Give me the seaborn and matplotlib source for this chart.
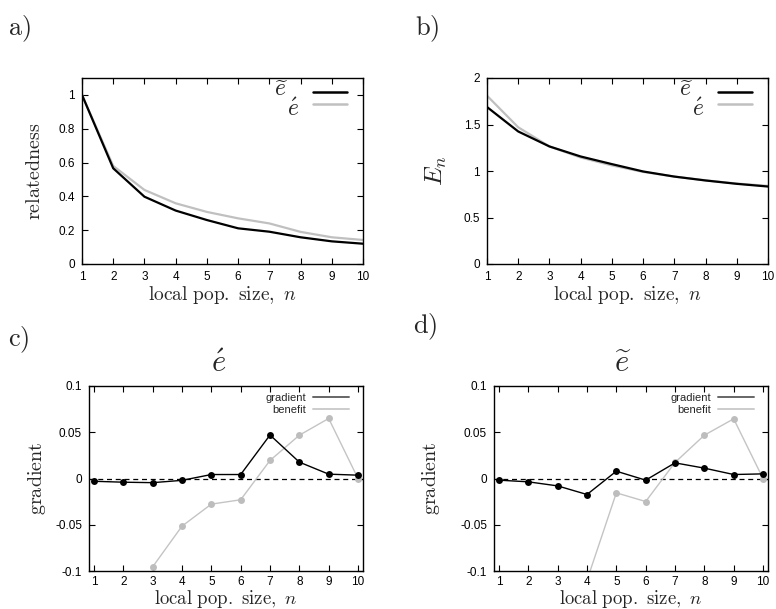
import numpy as np
import pandas as pd
import matplotlib
matplotlib.use("Agg")
import matplotlib.pyplot as plt
from matplotlib.lines import Line2D
from matplotlib.ticker import FuncFormatter
import seaborn as sns

# ---- data -------------------------------------------------------------
n = [1, 2, 3, 4, 5, 6, 7, 8, 9, 10]

relatedness_tilde = [1.0, 0.566, 0.398, 0.316, 0.26, 0.211, 0.191, 0.158, 0.134, 0.12]
relatedness_acute = [1.0, 0.58, 0.438, 0.359, 0.308, 0.27, 0.24, 0.19, 0.158, 0.142]

En_tilde = [1.688, 1.425, 1.264, 1.156, 1.074, 0.995, 0.94, 0.898, 0.862, 0.833]
En_acute = [1.81, 1.47, 1.264, 1.145, 1.06, 0.99, 0.94, 0.90, 0.865, 0.84]

gradient_acute = [-0.003, -0.004, -0.0045, -0.002, 0.0043, 0.0043, 0.047, 0.0177, 0.0047, 0.0036]
benefit_acute = [np.nan, np.nan, -0.0955, -0.0515, -0.0277, -0.023, 0.0195, 0.0468, 0.0649, 0.0]

gradient_tilde = [-0.0018, -0.0036, -0.008, -0.0173, 0.0079, -0.0018, 0.0169, 0.0112, 0.0043, 0.005]
benefit_tilde = [np.nan, np.nan, np.nan, -0.11, -0.0155, -0.0249, 0.0173, 0.0468, 0.0645, 0.0]

LBL_TILDE = r"$\widetilde{e}$"
LBL_ACUTE = r"$\acute{e}$"
XLABEL = r"$\mathrm{local\ pop.\ size,}\ n$"

# ---- style ------------------------------------------------------------
sns.set_style("ticks")
plt.rcParams["font.family"] = ["Liberation Sans", "DejaVu Sans"]
plt.rcParams["mathtext.fontset"] = "cm"
plt.rcParams["axes.unicode_minus"] = False
plt.rcParams["axes.linewidth"] = 1.0
plt.rcParams["axes.edgecolor"] = "black"

W, H = 776, 609
DPI = 100
fig = plt.figure(figsize=(W / DPI, H / DPI), dpi=DPI)


def px_axes(left, right, top, bottom):
    return fig.add_axes([left / W, 1 - bottom / H, (right - left) / W, (bottom - top) / H])


def style_axes(ax, yticks, ylim, xlim, xlabel_y, xpad=5, xlabel_size=14):
    ax.set_xlim(*xlim)
    ax.set_ylim(*ylim)
    ax.set_xticks(n)
    ax.set_yticks(yticks)
    ax.yaxis.set_major_formatter(FuncFormatter(lambda v, p: "%g" % round(v, 6)))
    ax.tick_params(direction="in", length=4, width=0.8, labelsize=8.5, pad=5,
                   top=True, right=True, colors="black")
    ax.tick_params(axis="x", pad=xpad)
    for s in ax.spines.values():
        s.set_visible(True)
        s.set_color("black")
        s.set_linewidth(1.0)
    ax.set_xlabel(XLABEL, fontsize=xlabel_size)
    ax.xaxis.set_label_coords(0.5, xlabel_y)


BLACK = "black"
GREY = "#c0c0c0"

# ---- a) relatedness ---------------------------------------------------
ax_a = px_axes(82, 363, 78, 264)
sns.lineplot(x=n, y=relatedness_acute, ax=ax_a, color=GREY, lw=1.6)
sns.lineplot(x=n, y=relatedness_tilde, ax=ax_a, color=BLACK, lw=1.6)
style_axes(ax_a, [0, 0.2, 0.4, 0.6, 0.8, 1], (0, 1.1), (1, 10), -0.105)
ax_a.set_ylabel(r"$\mathrm{relatedness}$", fontsize=14.5)
ax_a.yaxis.set_label_coords(-0.135, 0.5)

# ---- b) E_n -----------------------------------------------------------
ax_b = px_axes(487, 768, 78, 264)
sns.lineplot(x=n, y=En_acute, ax=ax_b, color=GREY, lw=1.6)
sns.lineplot(x=n, y=En_tilde, ax=ax_b, color=BLACK, lw=1.6)
style_axes(ax_b, [0, 0.5, 1, 1.5, 2], (0, 2), (1, 10), -0.105)
ax_b.set_ylabel(r"$E_n$", fontsize=18)
ax_b.yaxis.set_label_coords(-0.135, 0.5)

for ax in (ax_a, ax_b):
    handles = [Line2D([], [], color=BLACK, lw=1.8), Line2D([], [], color=GREY, lw=1.8)]
    leg = ax.legend(handles, [LBL_TILDE, LBL_ACUTE], loc="upper right", markerfirst=False,
                    frameon=False, fontsize=17, handlelength=1.45, handletextpad=0.65,
                    labelspacing=-0.45, borderaxespad=0.2, bbox_to_anchor=(0.995, 1.05))
    # stagger the two symbols: tilde-e sits up and left, acute-e drops below its line
    # (offsets are in output pixels)
    t_tilde, t_acute = leg.get_texts()
    t_tilde.set_position((-9, 4))
    t_acute.set_position((1, -4))


# ---- c) / d) gradient vs benefit --------------------------------------
def gradient_panel(ax, grad, ben):
    ax.axhline(0, color="black", lw=0.9, ls=(0, (4, 3)))
    sns.lineplot(x=n, y=ben, ax=ax, color="#c4c4c4", lw=1.0, marker="o",
                 markersize=5, markeredgewidth=0, markerfacecolor="#bdbdbd")
    sns.lineplot(x=n, y=grad, ax=ax, color=BLACK, lw=1.0, marker="o",
                 markersize=5, markeredgewidth=0, markerfacecolor=BLACK)
    style_axes(ax, [-0.1, -0.05, 0, 0.05, 0.1], (-0.1, 0.1), (0.83, 10.17), -0.092,
               xpad=3.5, xlabel_size=13.5)
    ax.set_ylabel(r"$\mathrm{gradient}$", fontsize=14.5)
    handles = [Line2D([], [], color="#666666", lw=1.4), Line2D([], [], color="#cccccc", lw=1.4)]
    ax.legend(handles, ["gradient", "benefit"], loc="upper right", markerfirst=False,
              frameon=False, fontsize=8, handlelength=3.3, handletextpad=0.6,
              labelspacing=0.2, borderaxespad=0.2, bbox_to_anchor=(0.975, 1.0))


ax_c = px_axes(89, 363, 386, 571)
gradient_panel(ax_c, gradient_acute, benefit_acute)
ax_c.yaxis.set_label_coords(-0.15, 0.5)

ax_d = px_axes(494, 768, 386, 571)
gradient_panel(ax_d, gradient_tilde, benefit_tilde)
ax_d.yaxis.set_label_coords(-0.19, 0.5)

# panel titles
fig.text(219 / W, 1 - 372 / H, LBL_ACUTE, fontsize=22, ha="center", va="baseline")
fig.text(623 / W, 1 - 372 / H, LBL_TILDE, fontsize=22, ha="center", va="baseline")

# panel letters
fig.text(8 / W, 1 - 13 / H, r"$\mathrm{a)}$", fontsize=19, ha="left", va="top")
fig.text(415 / W, 1 - 13 / H, r"$\mathrm{b)}$", fontsize=19, ha="left", va="top")
fig.text(8 / W, 1 - 324 / H, r"$\mathrm{c)}$", fontsize=19, ha="left", va="top")
fig.text(413 / W, 1 - 311 / H, r"$\mathrm{d)}$", fontsize=19, ha="left", va="top")

fig.savefig("out.png", dpi=DPI)
